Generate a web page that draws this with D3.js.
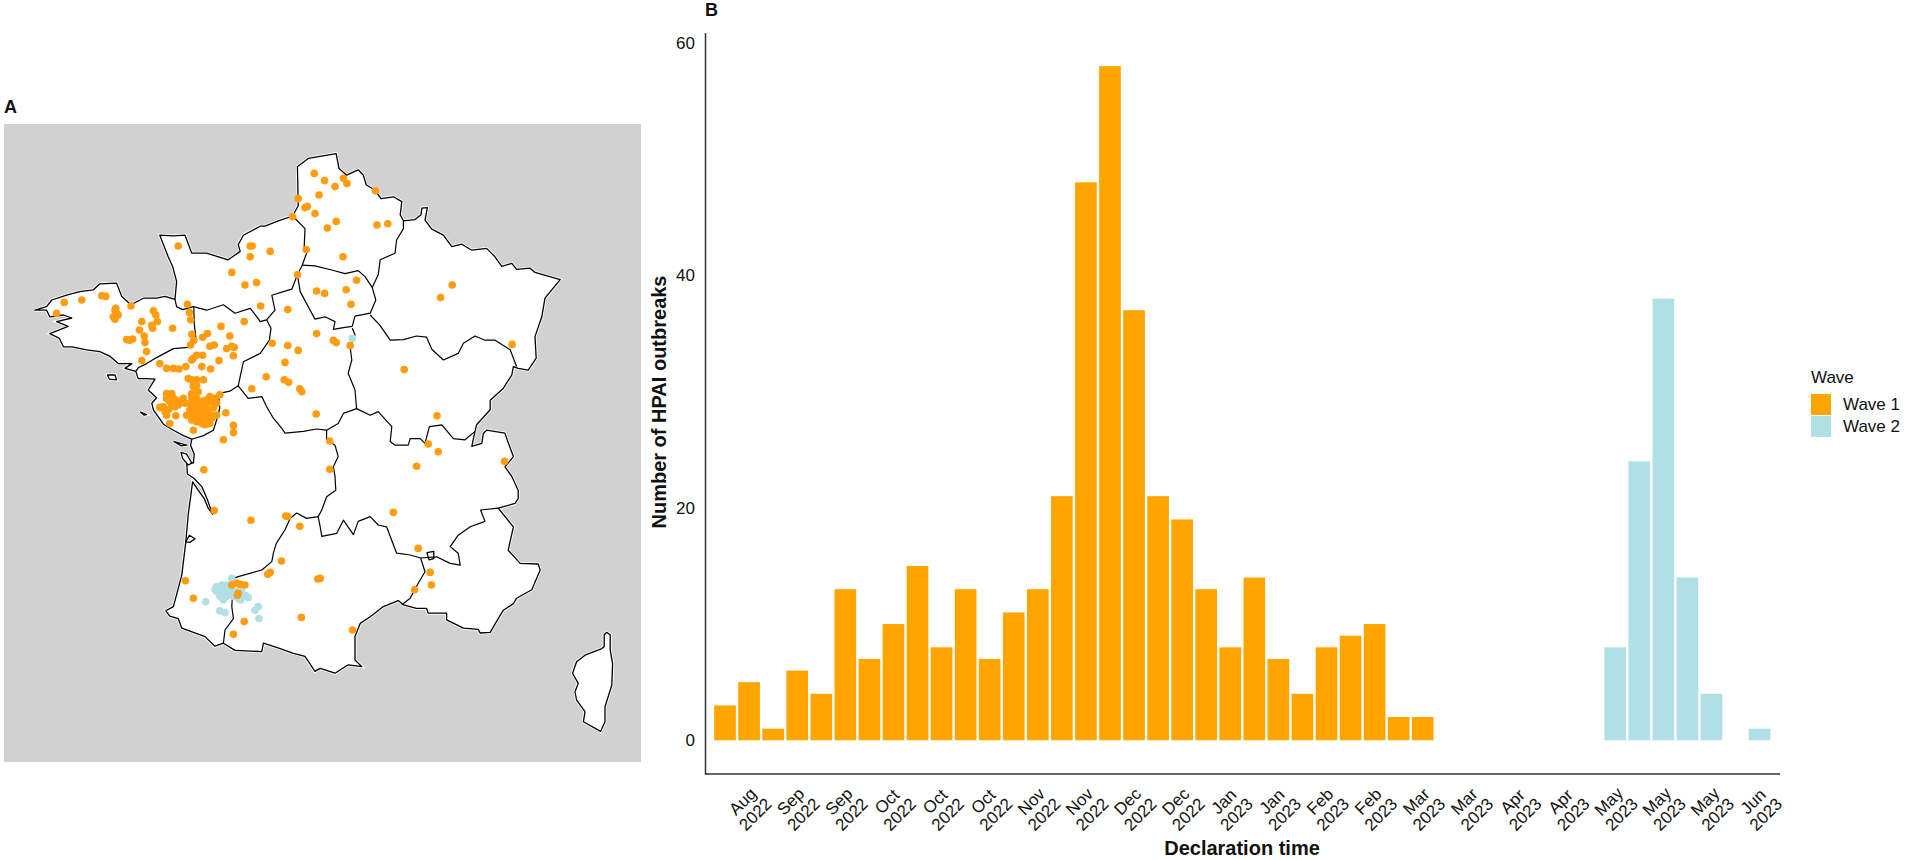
<!DOCTYPE html>
<html>
<head>
<meta charset="utf-8">
<script src="https://cdn.jsdelivr.net/npm/d3@7"></script>
<style>
  body { margin: 0; background: #fff; }
  text { font-family: "Liberation Sans", Arial, sans-serif; fill: #111; }
</style>
</head>
<body>
<svg id="fig" width="1908" height="860"></svg>
<script>
// panel B: outbreaks per 10-day bin
const wave1Counts = [3, 5, 1, 6, 4, 13, 7, 10, 15, 8, 13, 7, 11, 13, 21, 48, 58, 37, 21, 19, 13, 8, 14, 7, 4, 8, 9, 10, 2, 2];
const wave2Bins = [37, 38, 39, 40, 41, 43];
const wave2Counts = [8, 24, 38, 14, 4, 1];
const binCount = 44;
const yTickValues = [0, 20, 40, 60];
const tickMonths = ["Aug", "Sep", "Sep", "Oct", "Oct", "Oct", "Nov", "Nov", "Dec", "Dec", "Jan", "Jan", "Feb", "Feb", "Mar", "Mar", "Apr", "Apr", "May", "May", "May", "Jun"];
const tickYears = ["2022", "2022", "2022", "2022", "2022", "2022", "2022", "2022", "2022", "2022", "2023", "2023", "2023", "2023", "2023", "2023", "2023", "2023", "2023", "2023", "2023", "2023"];
const waveNames = ["Wave 1", "Wave 2"];

// panel A: lon/lat
const mainland = [[.80,49.87],[1.13,49.96],[1.49,50.04],[1.63,50.21],[1.62,50.58],[1.61,50.86],[1.88,51.00],[2.58,51.08],[2.65,50.83],[2.84,50.72],[3.13,50.81],[3.26,50.72],[3.33,50.56],[3.55,50.47],[3.70,50.33],[4.01,50.36],[4.22,50.28],[4.18,50.06],[4.26,49.96],[4.55,49.98],[4.70,50.06],[4.72,50.17],[4.86,50.18],[4.80,49.97],[4.97,49.82],[5.26,49.72],[5.47,49.53],[5.72,49.57],[5.97,49.47],[6.34,49.50],[6.55,49.36],[6.72,49.20],[6.97,49.25],[7.09,49.15],[7.43,49.17],[7.55,49.10],[8.18,48.98],[7.80,48.67],[7.72,48.36],[7.55,48.03],[7.58,47.67],[7.38,47.47],[7.13,47.50],[7.01,47.53],[6.97,47.39],[6.76,47.17],[6.43,46.97],[6.43,46.81],[6.09,46.56],[6.05,46.45],[5.97,46.20],[6.22,46.25],[6.26,46.42],[6.34,46.47],[6.80,46.42],[6.87,46.28],[7.01,46.03],[6.80,45.86],[6.97,45.70],[7.13,45.47],[7.13,45.33],[7.05,45.25],[6.63,45.17],[7.01,44.86],[6.88,44.47],[7.18,44.25],[7.63,44.24],[7.68,44.14],[7.47,43.81],[7.09,43.67],[7.01,43.58],[6.76,43.47],[6.63,43.33],[6.43,43.10],[6.18,43.09],[6.13,43.15],[5.76,43.17],[5.34,43.31],[5.34,43.42],[4.88,43.42],[4.84,43.50],[4.59,43.50],[4.26,43.56],[4.13,43.63],[3.76,43.53],[3.43,43.36],[3.18,43.25],[3.05,43.03],[3.05,42.64],[3.22,42.53],[2.88,42.56],[2.55,42.42],[2.18,42.50],[2.05,42.45],[1.80,42.70],[1.51,42.75],[1.18,42.83],[.76,42.92],[.72,42.78],[.05,42.80],[-.24,42.92],[-.45,42.87],[-.70,43.03],[-1.28,43.17],[-1.37,43.33],[-1.58,43.37],[-1.68,43.46],[-1.49,43.53],[-1.28,44.06],[-1.18,44.61],[-1.12,45.06],[-1.01,45.61],[-.87,45.47],[-.72,45.33],[-.62,45.17],[-.51,45.07],[-.64,45.31],[-.78,45.53],[-.98,45.67],[-1.14,45.74],[-1.16,45.95],[-.99,45.92],[-.97,46.07],[-1.06,46.22],[-1.03,46.32],[-1.24,46.38],[-1.49,46.47],[-1.74,46.57],[-1.99,46.81],[-2.03,46.92],[-1.91,47.01],[-2.12,47.14],[-1.95,47.32],[-2.16,47.33],[-2.37,47.33],[-2.43,47.45],[-2.70,47.50],[-2.53,47.58],[-2.87,47.58],[-3.07,47.70],[-3.33,47.78],[-3.66,47.81],[-4.03,47.86],[-4.24,47.86],[-4.34,48.00],[-4.58,48.08],[-4.12,48.20],[-4.41,48.28],[-4.03,48.34],[-4.24,48.39],[-4.58,48.36],[-4.66,48.47],[-4.95,48.47],[-4.66,48.53],[-4.53,48.64],[-4.16,48.72],[-3.83,48.78],[-3.49,48.81],[-3.33,48.91],[-2.91,48.92],[-2.78,48.70],[-2.55,48.56],[-2.24,48.67],[-1.91,48.67],[-1.70,48.70],[-1.45,48.65],[-1.41,48.95],[-1.51,49.20],[-1.62,49.36],[-1.83,49.72],[-1.49,49.71],[-1.20,49.72],[-1.03,49.42],[-.66,49.42],[-.12,49.31],[.18,49.45],[.13,49.56],[.26,49.72],[.68,49.87]];
const corsica = [[9.34,43.10],[9.43,43.06],[9.43,42.81],[9.49,42.58],[9.47,42.22],[9.30,41.86],[9.30,41.61],[9.19,41.45],[8.76,41.61],[8.80,41.78],[8.59,41.97],[8.55,42.11],[8.63,42.25],[8.49,42.42],[8.59,42.61],[8.80,42.72],[9.22,42.83],[9.28,42.86],[9.28,43.06]];
const islands = [
  [[-3.14,47.39],[-2.95,47.39],[-2.91,47.31],[-3.09,47.32]],
  [[-2.31,46.77],[-2.16,46.73],[-2.22,46.72]],
  [[-1.47,46.28],[-1.16,46.22],[-1.30,46.21]],
  [[-1.30,46.10],[-1.16,46.07],[-1.03,45.92],[-1.12,45.89],[-1.26,46.00]],
  [[-1.18,44.61],[-1.09,44.72],[-.95,44.66],[-1.08,44.60]],
  [[4.85,44.43],[5.02,44.45],[5.02,44.33],[4.90,44.31]]
];
const regionBorders = [
  [[1.49,50.04],[1.80,49.83],[1.78,49.53],[1.84,49.42],[1.73,49.22],[1.61,49.06],[1.47,48.82],[1.26,48.78],[.97,48.72],[1.05,48.47],[.84,48.31],[.68,48.28],[.63,48.33],[.43,48.50],[.05,48.42],[-.24,48.56],[-.66,48.47],[-.99,48.53],[-1.26,48.48],[-1.41,48.53],[-1.45,48.65]],
  [[1.73,49.22],[2.05,49.21],[2.47,49.14],[2.80,49.08],[3.13,49.13],[3.30,49.03],[3.48,48.85],[3.63,49.06],[3.68,49.31],[4.05,49.42],[4.09,49.64],[4.26,49.83],[4.26,49.96]],
  [[3.48,48.85],[3.57,48.64],[3.43,48.42],[3.05,48.37],[2.98,48.20],[2.76,48.18],[2.51,48.15],[2.55,48.28],[2.30,48.36],[2.05,48.32],[1.84,48.58],[1.68,48.78],[1.61,49.06]],
  [[3.43,48.39],[3.67,48.22],[3.93,47.97],[4.26,47.98],[4.59,48.04],[4.84,48.02],[4.97,47.82],[5.26,47.64],[5.63,47.75],[5.76,47.92],[6.05,48.04],[6.30,47.97],[6.55,47.97],[6.93,47.81],[7.09,47.53]],
  [[2.98,48.17],[3.05,48.06],[2.93,47.85],[2.97,47.64],[2.88,47.42],[3.05,47.14],[3.09,46.83],[2.76,46.75],[2.63,46.58],[2.34,46.47],[2.09,46.49],[1.76,46.45],[1.30,46.42],[1.22,46.50],[1.01,46.67],[.84,46.86],[.72,47.03],[.38,47.00],[.13,47.21],[.26,47.61],[.68,47.75],[.91,47.97],[.95,48.17],[.84,48.31]],
  [[-.98,48.52],[-.97,48.25],[-.93,48.02],[-1.12,47.85],[-1.49,47.83],[-1.91,47.68],[-2.16,47.58],[-2.37,47.51],[-2.43,47.45]],
  [[.13,47.21],[-.08,47.12],[-.37,47.08],[-.33,46.84],[-.41,46.64],[-.49,46.47],[-.74,46.38],[-1.03,46.32]],
  [[2.34,46.47],[2.34,46.31],[2.55,46.22],[2.63,46.03],[2.51,45.86],[2.55,45.70],[2.57,45.47],[2.34,45.36],[2.22,45.14],[2.13,45.03]],
  [[2.13,45.03],[1.84,45.00],[1.59,45.09],[1.43,45.00],[1.30,44.81],[1.08,44.58],[1.01,44.42],[.97,44.28],[.72,44.14],[.13,44.03],[.01,44.00],[-.03,43.53],[.01,43.33],[-.20,43.14],[-.24,42.92]],
  [[2.13,45.03],[2.18,44.86],[2.22,44.70],[2.59,44.75],[2.76,44.97],[3.01,44.73],[3.13,44.95],[3.43,45.03],[3.63,44.89],[3.84,44.86],[4.09,44.42],[4.43,44.39],[4.69,44.34]],
  [[4.69,44.34],[4.80,44.11],[4.63,43.92],[4.43,43.67],[4.22,43.56]],
  [[4.69,44.34],[5.09,44.36],[5.43,44.25],[5.68,44.22],[5.63,44.42],[5.43,44.53],[5.63,44.72],[5.93,44.86],[6.30,44.95],[6.19,45.14],[6.63,45.17]],
  [[3.09,46.83],[3.43,46.72],[3.63,46.78],[3.97,46.53],[3.93,46.28],[4.05,46.22],[4.38,46.22],[4.43,46.33],[4.68,46.33],[4.80,46.25],[4.91,46.53],[5.22,46.56],[5.51,46.33],[5.80,46.31],[6.05,46.45]]
];
const wave1Points = [[-1.37,49.54],[.43,49.54],[.48,49.54],[.43,49.36],[-.03,49.10],[.59,48.93],[.30,48.89],[.69,48.54],[.28,48.28],[-4.22,48.60],[-3.78,48.64],[-3.28,48.71],[-3.18,48.70],[-4.41,48.42],[-2.55,48.54],[-2.95,48.47],[-2.91,48.42],[-2.99,48.36],[-2.87,48.39],[-2.95,48.32],[-2.93,48.50],[-1.99,48.46],[-1.93,48.39],[-1.89,48.28],[-2.03,48.22],[-2.01,48.17],[-2.28,48.28],[-2.34,48.14],[-2.22,48.04],[-2.20,47.93],[-2.66,47.98],[-2.58,47.97],[-2.51,47.99],[-1.51,48.17],[-2.16,47.78],[-2.28,47.63],[-1.14,48.57],[-1.09,48.43],[-1.06,48.31],[-1.03,48.07],[-.98,47.97],[-1.06,47.89],[-.30,48.20],[-.08,48.04],[-.64,48.08],[-.76,48.02],[-.58,47.87],[-.47,47.89],[-.16,47.83],[-.03,47.87],[.03,47.85],[.01,47.71],[-.35,47.63],[-.91,47.72],[-.99,47.67],[-1.03,47.64],[-.76,47.72],[-.78,47.53],[-1.83,47.58],[-1.66,47.50],[-1.49,47.50],[-1.35,47.49],[-1.18,47.53],[-.56,47.49],
  [-1.03,47.31],[-1.12,47.33],[-.91,47.31],[-.74,47.31],[-.99,47.20],[-1.03,47.08],[-1.66,47.08],[-1.53,47.08],[-1.49,47.00],[-1.74,46.86],[-1.83,46.85],[-1.70,46.78],[-1.53,46.86],[-1.58,46.95],[-1.41,46.97],[-1.28,46.95],[-1.20,46.92],[-1.03,47.03],[-.91,47.00],[-.83,46.95],[-.95,46.92],[-.83,46.84],[-.70,46.89],[-.58,47.03],[-.58,46.95],[-.33,47.06],[-.41,46.92],[-.49,46.84],[-.41,46.72],[-.74,46.75],[-.83,46.70],[-.91,46.72],[-1.03,46.72],[-1.16,46.72],[-.66,46.67],[-.78,46.58],[-.91,46.61],[-.58,46.58],[-.74,46.78],[-.62,46.75],[-.49,46.72],[-1.43,46.71],[-1.58,46.58],[-1.66,46.72],[-.99,46.47],[-.18,46.76],[.01,46.55],[.01,46.43],[-.24,46.31],[.47,47.16],[-.73,45.81],[-.47,45.13],[.45,44.97],[-1.19,43.96],[-.99,43.67],[-.03,43.89],[.09,43.92],[.18,43.90],[.30,43.89],[.13,43.75],[.11,43.72],[.28,43.28],[.01,43.07],
  [-1.08,46.92],[-.95,46.84],[-1.08,46.81],[-.70,46.97],[-.45,47.00],[-.74,46.67],[-.53,46.67],[-1.03,46.64],[-.66,46.84],[-.83,46.75],[-.91,46.81],[-1.45,46.86],[-1.62,46.81],[-1.37,46.89],[-1.24,47.00],[-1.03,46.95],[-.87,47.11],[-.99,47.28],[-.91,47.22],[-1.66,47.00],[-.78,46.86],[-.49,46.95],[-.62,46.58],[-.70,46.56],
  [2.03,50.75],[2.29,50.63],[2.76,50.67],[2.85,50.58],[2.55,50.53],[2.15,50.39],[3.56,50.46],[1.63,50.33],[1.80,50.18],[1.86,50.20],[2.05,50.08],[1.49,50.03],[2.58,49.95],[2.36,49.84],[3.60,49.89],[3.87,49.91],[.93,49.45],[1.83,49.48],[2.75,49.36],[1.61,49.06],[3.09,48.97],[2.09,48.79],[2.29,48.75],[2.83,48.81],[2.95,48.57],[1.37,48.48],[5.48,48.89],[5.19,48.68],[.98,47.92],[1.37,47.88],[2.09,48.08],[2.51,47.97],[2.58,47.93],[1.63,47.80],[1.30,47.60],[2.93,47.88],[6.98,47.90],[4.28,47.48],
  [.83,47.36],[1.28,47.31],[1.39,47.27],[1.67,47.16],[1.72,47.11],[2.08,46.74],[5.10,46.71],[2.42,46.29],[2.42,45.82],[4.88,46.24],[5.13,46.11],[4.59,45.87],[6.79,45.95],[4.01,45.10],[1.32,45.04],[1.37,45.03],[1.67,44.87],[4.63,44.50],[1.21,44.29],[.87,44.07],[.93,44.10],[2.12,43.99],[2.18,44.00],[4.93,44.10],[4.96,43.89],[4.54,43.81],[1.71,43.35],[2.99,43.14]];
const wave2Points = [[-.41,43.86],[-.28,43.89],[-.16,43.89],[-.41,43.78],[-.28,43.78],[-.16,43.78],[-.03,43.78],[-.33,43.70],[-.16,43.70],[-.03,44.00],[.22,43.78],[.38,43.68],[.19,43.64],[-.68,43.61],[-.33,43.46],[-.20,43.43],[.55,43.47],[.63,43.53],[.65,43.33],[-.37,43.83],[-.24,43.83],[-.08,43.83],[.09,43.78],[-.25,43.72],[-.45,43.82],[.01,43.70],[.13,43.67],[.30,43.72],[-.24,43.64],[2.98,48.00]];

const waveColors = ["#FFA500", "#B0E0E6"];
const svg = d3.select("#fig");

// ---- panel A ----
svg.append("text").attr("x", 4).attr("y", 113).attr("font-size", 18).attr("font-weight", "bold").text("A");
svg.append("rect").attr("x", 4).attr("y", 124).attr("width", 637).attr("height", 638).attr("fill", "#D1D1D1");

const mapX = d3.scaleLinear().domain([0, 10]).range([233, 633]);
const mapY = d3.scaleLinear().domain([43, 51]).range([638.4, 158.4]);
const ring = d3.line().x(d => mapX(d[0])).y(d => mapY(d[1])).curve(d3.curveLinearClosed);
const open = d3.line().x(d => mapX(d[0])).y(d => mapY(d[1]));

const map = svg.append("g");
const rings = [mainland, corsica, ...islands];
map.selectAll(".halo").data(rings).enter().append("path")
  .attr("class", "halo").attr("d", ring)
  .attr("fill", "#fff").attr("stroke", "#fff").attr("stroke-width", 3);
map.selectAll(".coast").data(rings).enter().append("path")
  .attr("class", "coast").attr("d", ring)
  .attr("fill", "#fff").attr("stroke", "#000").attr("stroke-width", 1.3).attr("stroke-linejoin", "round");
map.selectAll(".border").data(regionBorders).enter().append("path")
  .attr("class", "border").attr("d", open)
  .attr("fill", "none").attr("stroke", "#000").attr("stroke-width", 1.2).attr("stroke-linejoin", "round");

map.selectAll(".w2").data(wave2Points).enter().append("circle")
  .attr("class", "w2").attr("cx", d => mapX(d[0])).attr("cy", d => mapY(d[1]))
  .attr("r", 3.8).attr("fill", waveColors[1]);
map.selectAll(".w1").data(wave1Points).enter().append("circle")
  .attr("class", "w1").attr("cx", d => mapX(d[0])).attr("cy", d => mapY(d[1]))
  .attr("r", 3.8).attr("fill", "#FF9C0F");

// ---- panel B ----
svg.append("text").attr("x", 705).attr("y", 16).attr("font-size", 18).attr("font-weight", "bold").text("B");

const x = d3.scaleBand().domain(d3.range(binCount)).range([713, 1771.6]).paddingInner(0.1).paddingOuter(0.05);
const y = d3.scaleLinear().domain([-2.9, 60.9]).range([774, 32.4]);

const bars = [
  ...wave1Counts.map((v, i) => ({ bin: i, value: v, wave: 0 })),
  ...wave2Counts.map((v, i) => ({ bin: wave2Bins[i], value: v, wave: 1 }))
];
svg.selectAll(".bar").data(bars).enter().append("rect")
  .attr("class", "bar")
  .attr("x", d => x(d.bin))
  .attr("width", x.bandwidth())
  .attr("y", d => y(d.value))
  .attr("height", d => y(0) - y(d.value))
  .attr("fill", d => waveColors[d.wave]);

const yAxis = svg.append("g").attr("transform", "translate(705,0)")
  .call(d3.axisLeft(y).tickValues(yTickValues).tickSize(0).tickPadding(10));
yAxis.select(".domain").attr("stroke", "#333").attr("stroke-width", 1.5);
yAxis.selectAll("text").attr("font-size", 17).style("font-family", "Liberation Sans");

svg.append("line").attr("x1", 705).attr("x2", 1780).attr("y1", 774).attr("y2", 774)
  .attr("stroke", "#333").attr("stroke-width", 1.5);

// two-line rotated date labels, one every second bin
const tick = svg.selectAll(".date").data(tickMonths).enter().append("g")
  .attr("class", "date")
  .attr("transform", (d, i) => `translate(${x(2 * i + 1) + x.bandwidth() / 2 - 1},807) rotate(-45)`);
tick.append("text").attr("text-anchor", "middle").attr("font-size", 17).attr("y", -2).text(d => d);
tick.append("text").attr("text-anchor", "middle").attr("font-size", 17).attr("y", 16).text((d, i) => tickYears[i]);

svg.append("text").attr("x", 1242).attr("y", 855).attr("text-anchor", "middle")
  .attr("font-size", 20).attr("font-weight", "bold").text("Declaration time");
svg.append("text").attr("transform", "translate(666,402) rotate(-90)").attr("text-anchor", "middle")
  .attr("font-size", 20).attr("font-weight", "bold").text("Number of HPAI outbreaks");

// legend
svg.append("text").attr("x", 1811).attr("y", 383).attr("font-size", 17).text("Wave");
const legend = svg.selectAll(".key").data(waveNames).enter().append("g")
  .attr("class", "key").attr("transform", (d, i) => `translate(1811,${394 + i * 22})`);
legend.append("rect").attr("width", 20).attr("height", 21).attr("fill", (d, i) => waveColors[i]);
legend.append("text").attr("x", 32).attr("y", 16).attr("font-size", 17).text(d => d);
</script>
</body>
</html>
